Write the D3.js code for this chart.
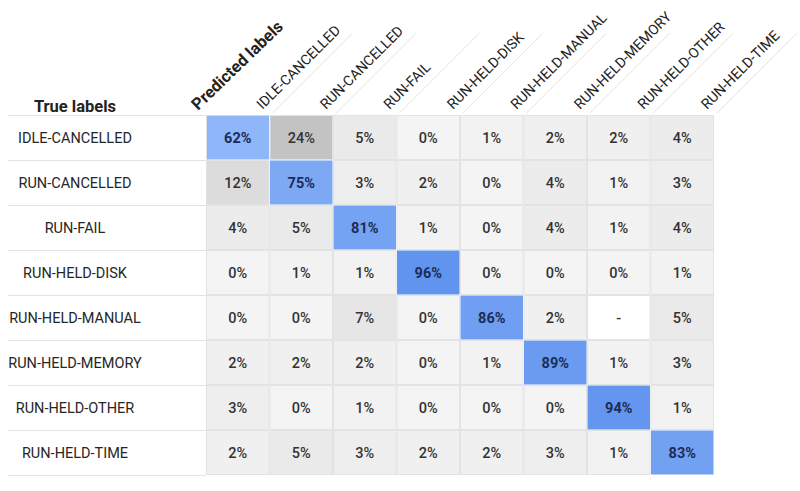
<!DOCTYPE html>
<html>
<head>
<meta charset="utf-8">
<script src="https://cdn.jsdelivr.net/npm/d3@7"></script>
<style>
  html, body { margin: 0; padding: 0; background: #fff; }
  svg { display: block; font-family: Roboto, "Noto Sans", sans-serif; }
</style>
</head>
<body>
<svg id="chart" width="800" height="491"></svg>
<script>
const categories = ["IDLE-CANCELLED", "RUN-CANCELLED", "RUN-FAIL", "RUN-HELD-DISK",
  "RUN-HELD-MANUAL", "RUN-HELD-MEMORY", "RUN-HELD-OTHER", "RUN-HELD-TIME"];
const rowTitle = "True labels";
const colTitle = "Predicted labels";
// rows = true label, columns = predicted label (percent); null = "-"
const rowIdleCancelled = [62, 24, 5, 0, 1, 2, 2, 4];
const rowRunCancelled  = [12, 75, 3, 2, 0, 4, 1, 3];
const rowRunFail       = [4, 5, 81, 1, 0, 4, 1, 4];
const rowHeldDisk      = [0, 1, 1, 96, 0, 0, 0, 1];
const rowHeldManual    = [0, 0, 7, 0, 86, 2, null, 5];
const rowHeldMemory    = [2, 2, 2, 0, 1, 89, 1, 3];
const rowHeldOther     = [3, 0, 1, 0, 0, 0, 94, 1];
const rowHeldTime      = [2, 5, 3, 2, 2, 3, 1, 83];
const matrix = [rowIdleCancelled, rowRunCancelled, rowRunFail, rowHeldDisk,
  rowHeldManual, rowHeldMemory, rowHeldOther, rowHeldTime];

const cells = [];
matrix.forEach((row, i) => row.forEach((v, j) => cells.push({
  t: categories[i], p: categories[j], v, diag: i === j
})));

const svg = d3.select("#chart");
const x = d3.scaleBand().domain(categories).range([206, 714]);
const y = d3.scaleBand().domain(categories).range([115, 475]);
const bw = x.bandwidth(), bh = y.bandwidth();

const blue = d3.scaleLinear().domain([60, 100]).range(["#91b8f8", "#5c90ee"]).clamp(true);
const grey = d3.scaleLinear().domain([0, 24]).range(["#f4f4f4", "#c3c3c3"]).clamp(true);

// row label separators
const labelG = svg.append("g");
labelG.selectAll("line.sep")
  .data([115].concat(categories.map(c => y(c) + bh)))
  .join("line")
  .attr("x1", 8).attr("x2", 206)
  .attr("y1", d => d + 0.5).attr("y2", d => d + 0.5)
  .attr("stroke", "#e2e2e2").attr("stroke-width", 1);

labelG.append("text")
  .attr("x", 75).attr("y", 112)
  .attr("text-anchor", "middle")
  .attr("font-size", 16.5).attr("font-weight", 700).attr("fill", "#222")
  .text(rowTitle);

labelG.selectAll("text.row")
  .data(categories)
  .join("text")
  .attr("class", "row")
  .attr("x", 75)
  .attr("y", d => y(d) + bh / 2)
  .attr("dy", "0.35em")
  .attr("text-anchor", "middle")
  .attr("font-size", 14.5).attr("fill", "#262626")
  .text(d => d);

// cells
const cellG = svg.append("g");
cellG.selectAll("rect")
  .data(cells)
  .join("rect")
  .attr("x", d => x(d.p) + 0.5)
  .attr("y", d => y(d.t) + 0.5)
  .attr("width", bw - 1)
  .attr("height", bh - 1)
  .attr("fill", d => d.v === null ? "#ffffff" : (d.diag ? blue(d.v) : grey(d.v)))
  .attr("stroke", d => d.diag ? "none" : "#e3e3e3")
  .attr("stroke-width", 1);

cellG.selectAll("text")
  .data(cells)
  .join("text")
  .attr("x", d => x(d.p) + bw / 2)
  .attr("y", d => y(d.t) + bh / 2)
  .attr("dy", "0.35em")
  .attr("text-anchor", "middle")
  .attr("font-size", 14.5)
  .attr("font-weight", d => d.diag ? 700 : 500)
  .attr("fill", d => d.diag ? "#1b2d55" : "#333")
  .text(d => d.v === null ? "-" : d.v + "%");

// left border of grid
svg.append("line")
  .attr("x1", 206.5).attr("x2", 206.5).attr("y1", 115).attr("y2", 475)
  .attr("stroke", "#e2e2e2");

// column headers (rotated)
const headG = svg.append("g");
headG.selectAll("line.hl")
  .data(categories)
  .join("line")
  .attr("x1", d => x(d) + bw + 3)
  .attr("y1", 113)
  .attr("x2", d => x(d) + bw + 3 + 80)
  .attr("y2", 113 - 80)
  .attr("stroke", "#e4e4e4").attr("stroke-width", 1);

headG.selectAll("text.col")
  .data(categories)
  .join("text")
  .attr("class", "col")
  .attr("transform", d => `translate(${x(d) + bw - 7},${110}) rotate(-45)`)
  .attr("font-size", 14.2).attr("fill", "#222")
  .text(d => d);

headG.append("text")
  .attr("transform", `translate(198,111) rotate(-44)`)
  .attr("font-size", 16.5).attr("font-weight", 700).attr("fill", "#222")
  .text(colTitle);
</script>
</body>
</html>
